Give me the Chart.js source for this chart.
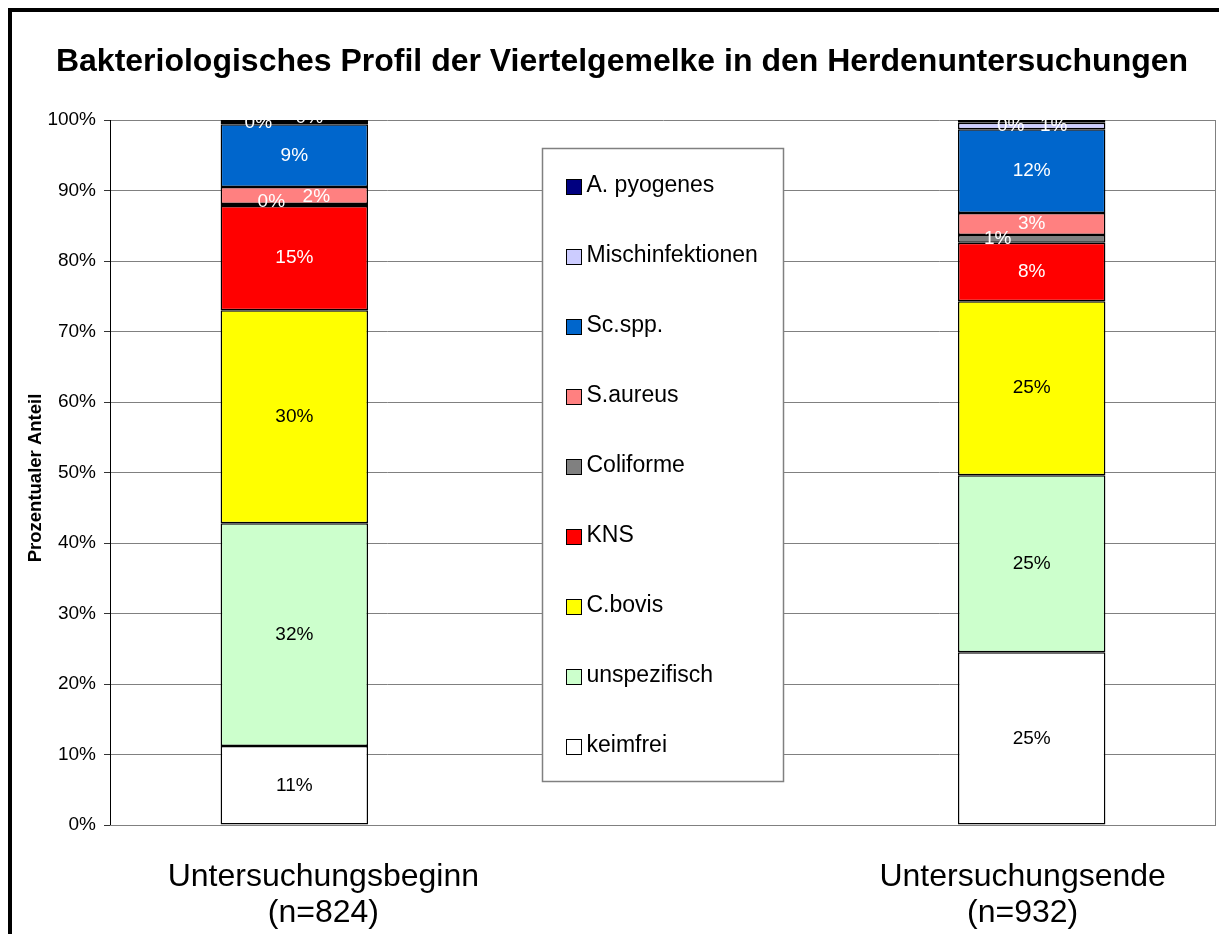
<!DOCTYPE html>
<html>
<head>
<meta charset="utf-8">
<title>Bakteriologisches Profil</title>
<script src="https://cdn.jsdelivr.net/npm/chart.js@4.4.1/dist/chart.umd.min.js"></script>
<style>
    html, body { margin: 0; padding: 0; background: #fff; }
    #wrap { position: relative; width: 1219px; height: 934px; overflow: hidden; }
    #frame { position: absolute; left: 8px; top: 8px; width: 1300px; height: 1000px;
             border-left: 4px solid #000; border-top: 4px solid #000; pointer-events: none; }
    canvas { position: absolute; left: 0; top: 0; }
</style>
</head>
<body>
<div id="wrap">
    <canvas id="chart" width="1219" height="934"></canvas>
    <div id="frame"></div>
</div>
<script>
// categories (middle slot stays empty, the legend sits there)
const categories = [['Untersuchungsbeginn', '(n=824)'], ['', ''], ['Untersuchungsende', '(n=932)']];

// series values in %, [Untersuchungsbeginn, Untersuchungsende]
const keimfrei = [11.2, 24.5];
const unspezifisch = [31.6, 25.1];
const cBovis = [30.2, 24.7];
const kns = [14.8, 8.3];
const coliforme = [0.3, 1.1];
const sAureus = [2.4, 3.1];
const scSpp = [8.9, 11.9];
const mischinfektionen = [0.3, 0.9];
const aPyogenes = [0.3, 0.4];

const yTicks = [0, 10, 20, 30, 40, 50, 60, 70, 80, 90, 100];

const FONT = '"Liberation Sans", Arial, sans-serif';

const series = [
    { label: 'keimfrei', values: keimfrei, color: '#FFFFFF', text: '#000' },
    { label: 'unspezifisch', values: unspezifisch, color: '#CCFFCC', text: '#000' },
    { label: 'C.bovis', values: cBovis, color: '#FFFF00', text: '#000' },
    { label: 'KNS', values: kns, color: '#FF0000', text: '#fff' },
    { label: 'Coliforme', values: coliforme, color: '#808080', text: '#fff' },
    { label: 'S.aureus', values: sAureus, color: '#FF8080', text: '#fff' },
    { label: 'Sc.spp.', values: scSpp, color: '#0066CC', text: '#fff' },
    { label: 'Mischinfektionen', values: mischinfektionen, color: '#CCCCFF', text: '#fff' },
    { label: 'A. pyogenes', values: aPyogenes, color: '#000080', text: '#fff' },
];

// manual nudges for the crowded little labels: [dx, dy] per dataset, per bar
const labelShift = {
    4: [[-23, -3], null, [-34, 0]],
    5: [[22, 1], null, null],
    7: [[-36, 0], null, [22, 0]],
    8: [[15, -3], null, [-21, 4]],
};
const xLabelShift = [29, 0, -9];

const overlay = {
    id: 'overlay',
    beforeDatasetsDraw(chart) {
        const { ctx, chartArea: a } = chart;
        ctx.save();
        ctx.strokeStyle = '#808080';
        ctx.lineWidth = 1;
        ctx.beginPath();
        ctx.moveTo(a.right - 0.5, a.top);
        ctx.lineTo(a.right - 0.5, a.bottom + 0.5);
        ctx.lineTo(a.left, a.bottom + 0.5);
        ctx.stroke();
        ctx.restore();
    },
    afterDatasetsDraw(chart) {
        const ctx = chart.ctx;
        ctx.save();
        ctx.font = '19px ' + FONT;
        ctx.textAlign = 'center';
        ctx.textBaseline = 'middle';
        chart.data.datasets.forEach((ds, i) => {
            const meta = chart.getDatasetMeta(i);
            meta.data.forEach((el, j) => {
                const v = ds.data[j];
                if (v === null || v === undefined) return;
                const shift = (labelShift[i] && labelShift[i][j]) || [0, 0];
                ctx.fillStyle = series[i].text;
                ctx.fillText(Math.round(v) + '%', el.x + shift[0], (el.y + el.base) / 2 + shift[1]);
            });
        });
        ctx.restore();
    },
    afterDraw(chart) {
        const { ctx, scales } = chart;
        const xs = scales.x, ys = scales.y;
        ctx.save();

        // title
        ctx.fillStyle = '#000';
        ctx.font = 'bold 32px ' + FONT;
        ctx.textAlign = 'center';
        ctx.textBaseline = 'middle';
        ctx.fillText('Bakteriologisches Profil der Viertelgemelke in den Herdenuntersuchungen', 622, 62);

        // y axis title
        ctx.save();
        ctx.translate(36, 478);
        ctx.rotate(-Math.PI / 2);
        ctx.font = 'bold 18.5px ' + FONT;
        ctx.fillText('Prozentualer Anteil', 0, 0);
        ctx.restore();

        // category labels
        ctx.font = '32px ' + FONT;
        categories.forEach((lines, i) => {
            const x = xs.getPixelForValue(i) + xLabelShift[i];
            ctx.fillText(lines[0], x, 877);
            ctx.fillText(lines[1], x, 913);
        });

        // legend box in the empty middle slot
        const cx = xs.getPixelForValue(1);
        const left = Math.round(cx - 121) + 0.5;
        const top = Math.round(ys.getPixelForValue(96)) + 0.5;
        const bottom = Math.round(ys.getPixelForValue(6.2)) + 0.5;
        ctx.fillStyle = '#fff';
        ctx.fillRect(left, top, 241, bottom - top);
        ctx.strokeStyle = '#808080';
        ctx.lineWidth = 1.5;
        ctx.strokeRect(left, top, 241, bottom - top);

        ctx.font = '23px ' + FONT;
        ctx.textAlign = 'left';
        ctx.lineWidth = 1;
        ctx.strokeStyle = '#000';
        const items = series.slice().reverse();
        items.forEach((s, k) => {
            const y = top + 37 + k * 70;
            ctx.fillStyle = s.color;
            ctx.fillRect(left + 24, Math.round(y - 7) + 0.5, 15, 15);
            ctx.strokeRect(left + 24, Math.round(y - 7) + 0.5, 15, 15);
            ctx.fillStyle = '#000';
            ctx.fillText(s.label, left + 44, y);
        });

        ctx.restore();
    }
};

new Chart(document.getElementById('chart'), {
    type: 'bar',
    data: {
        labels: categories,
        datasets: series.map(s => ({
            label: s.label,
            data: [s.values[0], null, s.values[1]],
            backgroundColor: s.color,
            borderColor: '#000',
            borderWidth: 1.5,
            borderSkipped: false,
            barPercentage: 0.4,
            categoryPercentage: 1,
        })),
    },
    options: {
        responsive: false,
        animation: false,
        devicePixelRatio: 1,
        layout: { padding: { top: 120, right: 3, left: 0, bottom: 0 } },
        plugins: {
            legend: { display: false },
            title: { display: false },
            tooltip: { enabled: false },
        },
        scales: {
            x: {
                stacked: true,
                grid: { display: false },
                border: { display: false },
                ticks: { display: false },
                afterFit: (s) => { s.height = 109; },
            },
            y: {
                stacked: true,
                min: 0,
                max: 100,
                afterBuildTicks: (s) => { s.ticks = yTicks.map(v => ({ value: v })); },
                ticks: {
                    callback: (v) => v + '%',
                    color: '#000',
                    font: { family: FONT, size: 19 },
                    padding: 8,
                },
                grid: { color: '#808080', lineWidth: 1, tickLength: 6, tickColor: '#333' },
                border: { color: '#000', width: 1 },
                afterFit: (s) => { s.width = 110; },
            },
        },
    },
    plugins: [overlay],
});
</script>
</body>
</html>
